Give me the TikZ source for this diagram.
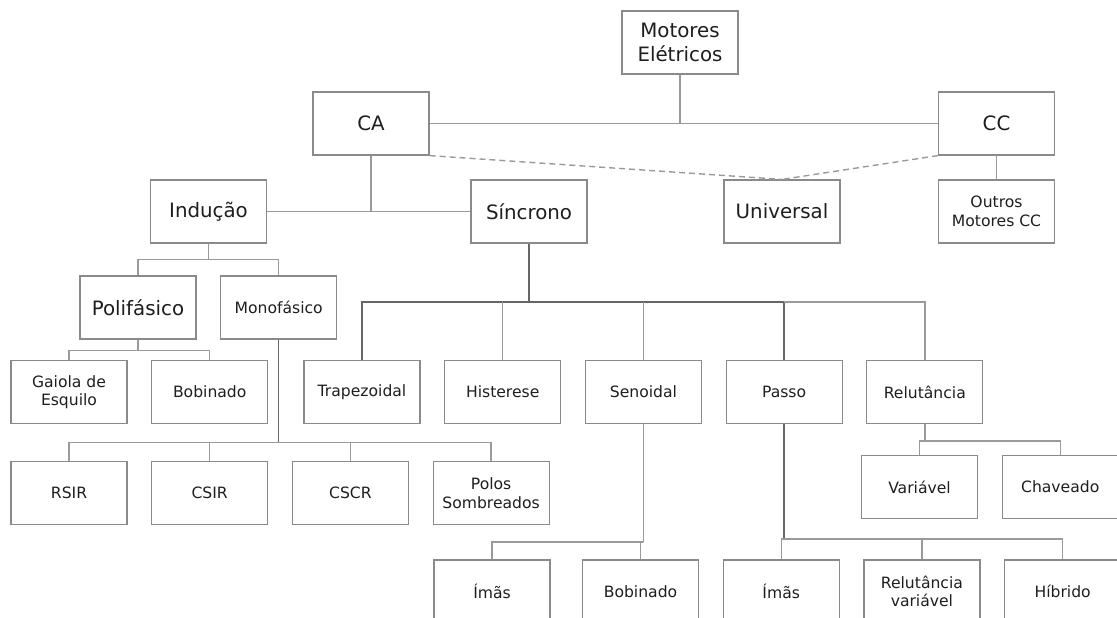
\documentclass[tikz,border=0pt]{standalone}
\usepackage{fontspec}
\setmainfont{DejaVu Sans}
\usetikzlibrary{positioning}
\definecolor{boxgray}{HTML}{8A8A8A}
\definecolor{linegray}{HTML}{9A9A9A}
\definecolor{trunkgray}{HTML}{666666}
\definecolor{txt}{HTML}{1E1E1E}
\begin{document}
\begin{tikzpicture}[x=1pt, y=-1pt, node distance=23.5pt,
  box/.style={draw=boxgray, line width=1.2pt, minimum width=116pt, minimum height=63pt, inner sep=0pt, align=center, text=txt},
  big/.style={box, font=\fontsize{19.8}{24}\selectfont},
  small/.style={box, font=\fontsize{15.6}{18.5}\selectfont},
  link/.style={draw=linegray, line width=1.4pt},
  trunk/.style={draw=trunkgray, line width=1.5pt},
  dash line/.style={draw=linegray, line width=1.4pt, dash pattern=on 6pt off 4pt}]

\clip (0,0) rectangle (1117,618);
\fill[white] (0,0) rectangle (1117,618);

\node[big] (mot) at (680,42.5) {Motores\\Elétricos};
\node[big] (ca) at (371,123.5) {CA};
\node[big] (cc) at (996.5,123.5) {CC};

\node[big] (ind) at (208.5,211.5) {Indução};
\node[big] (sin) at (529,211.5) {Síncrono};
\node[big] (uni) at (782,211.5) {Universal};
\node[small] (out) at (996.5,211.5) {Outros\\Motores CC};

\node[big] (pol) at (138,307.5) {Polifásico};
\node[small] (mon) [right=of pol] {Monofásico};

\node[small] (gai) at (69,392) {Gaiola de\\Esquilo};
\node[small] (bob) [right=of gai] {Bobinado};
\node[small] (tra) at (362,392) {Trapezoidal};
\node[small] (his) [right=of tra] {Histerese};
\node[small] (sen) [right=of his] {Senoidal};
\node[small] (pas) [right=of sen] {Passo};
\node[small] (rel) [right=of pas] {Relutância};

\node[small] (rsir) at (69,493) {RSIR};
\node[small] (csir) [right=of rsir] {CSIR};
\node[small] (cscr) [right=of csir] {CSCR};
\node[small] (polos) [right=of cscr] {Polos\\Sombreados};
\node[small] (var) at (919.5,487) {Variável};
\node[small] (cha) [right=of var] {Chaveado};

\node[small] (ima1) at (492,591.5) {Ímãs};
\node[small] (bob2) at (640.5,591.5) {Bobinado};
\node[small] (ima2) [right=of bob2] {Ímãs};
\node[small] (relv) [right=of ima2] {Relutância\\variável};
\node[small] (hib) [right=of relv] {Híbrido};

\draw[link] (mot.south) -- (mot.south |- ca.east);
\draw[link] (ca.east) -- (cc.west);
\draw[dash line] (ca.south east) -- (uni.north);
\draw[dash line] (cc.south west) -- (uni.north);
\draw[link] (cc.south) -- (out.north);

\draw[link] (ca.south) -- (ca.south |- ind.east);
\draw[link] (ind.east) -- (sin.west);

\draw[link] (ind.south) -- ++(0,16) coordinate (b1);
\draw[link] (pol.north) |- (b1) -| (mon.north);
\draw[link] (pol.south) -- ++(0,11) coordinate (b2);
\draw[link] (gai.north) |- (b2) -| (bob.north);

\draw[trunk] (sin.south) -- ++(0,58.5) coordinate (b3);
\draw[trunk] (tra.north) |- (b3) -| (pas.north);
\draw[link] (pas.north |- b3) -| (rel.north);
\foreach \n in {his,sen}
  \draw[link] (\n.north) -- (\n.north |- b3);

\draw[trunk] (mon.south) -- ++(0,103) coordinate (b4);
\draw[link] (rsir.north) |- (b4) -| (polos.north);
\foreach \n in {csir,cscr}
  \draw[link] (\n.north) -- (\n.north |- b4);

\draw[link] (rel.south) -- ++(0,17) coordinate (b5);
\draw[link] (var.north) |- (b5) -| (cha.north);

\draw[link] (sen.south) -- ++(0,118) coordinate (b6);
\draw[link] (ima1.north) |- (b6) -| (bob2.north);

\draw[trunk] (pas.south) -- ++(0,115) coordinate (b7);
\draw[link] (ima2.north) |- (b7) -| (hib.north);
\draw[link] (relv.north) -- (relv.north |- b7);

\end{tikzpicture}
\end{document}
